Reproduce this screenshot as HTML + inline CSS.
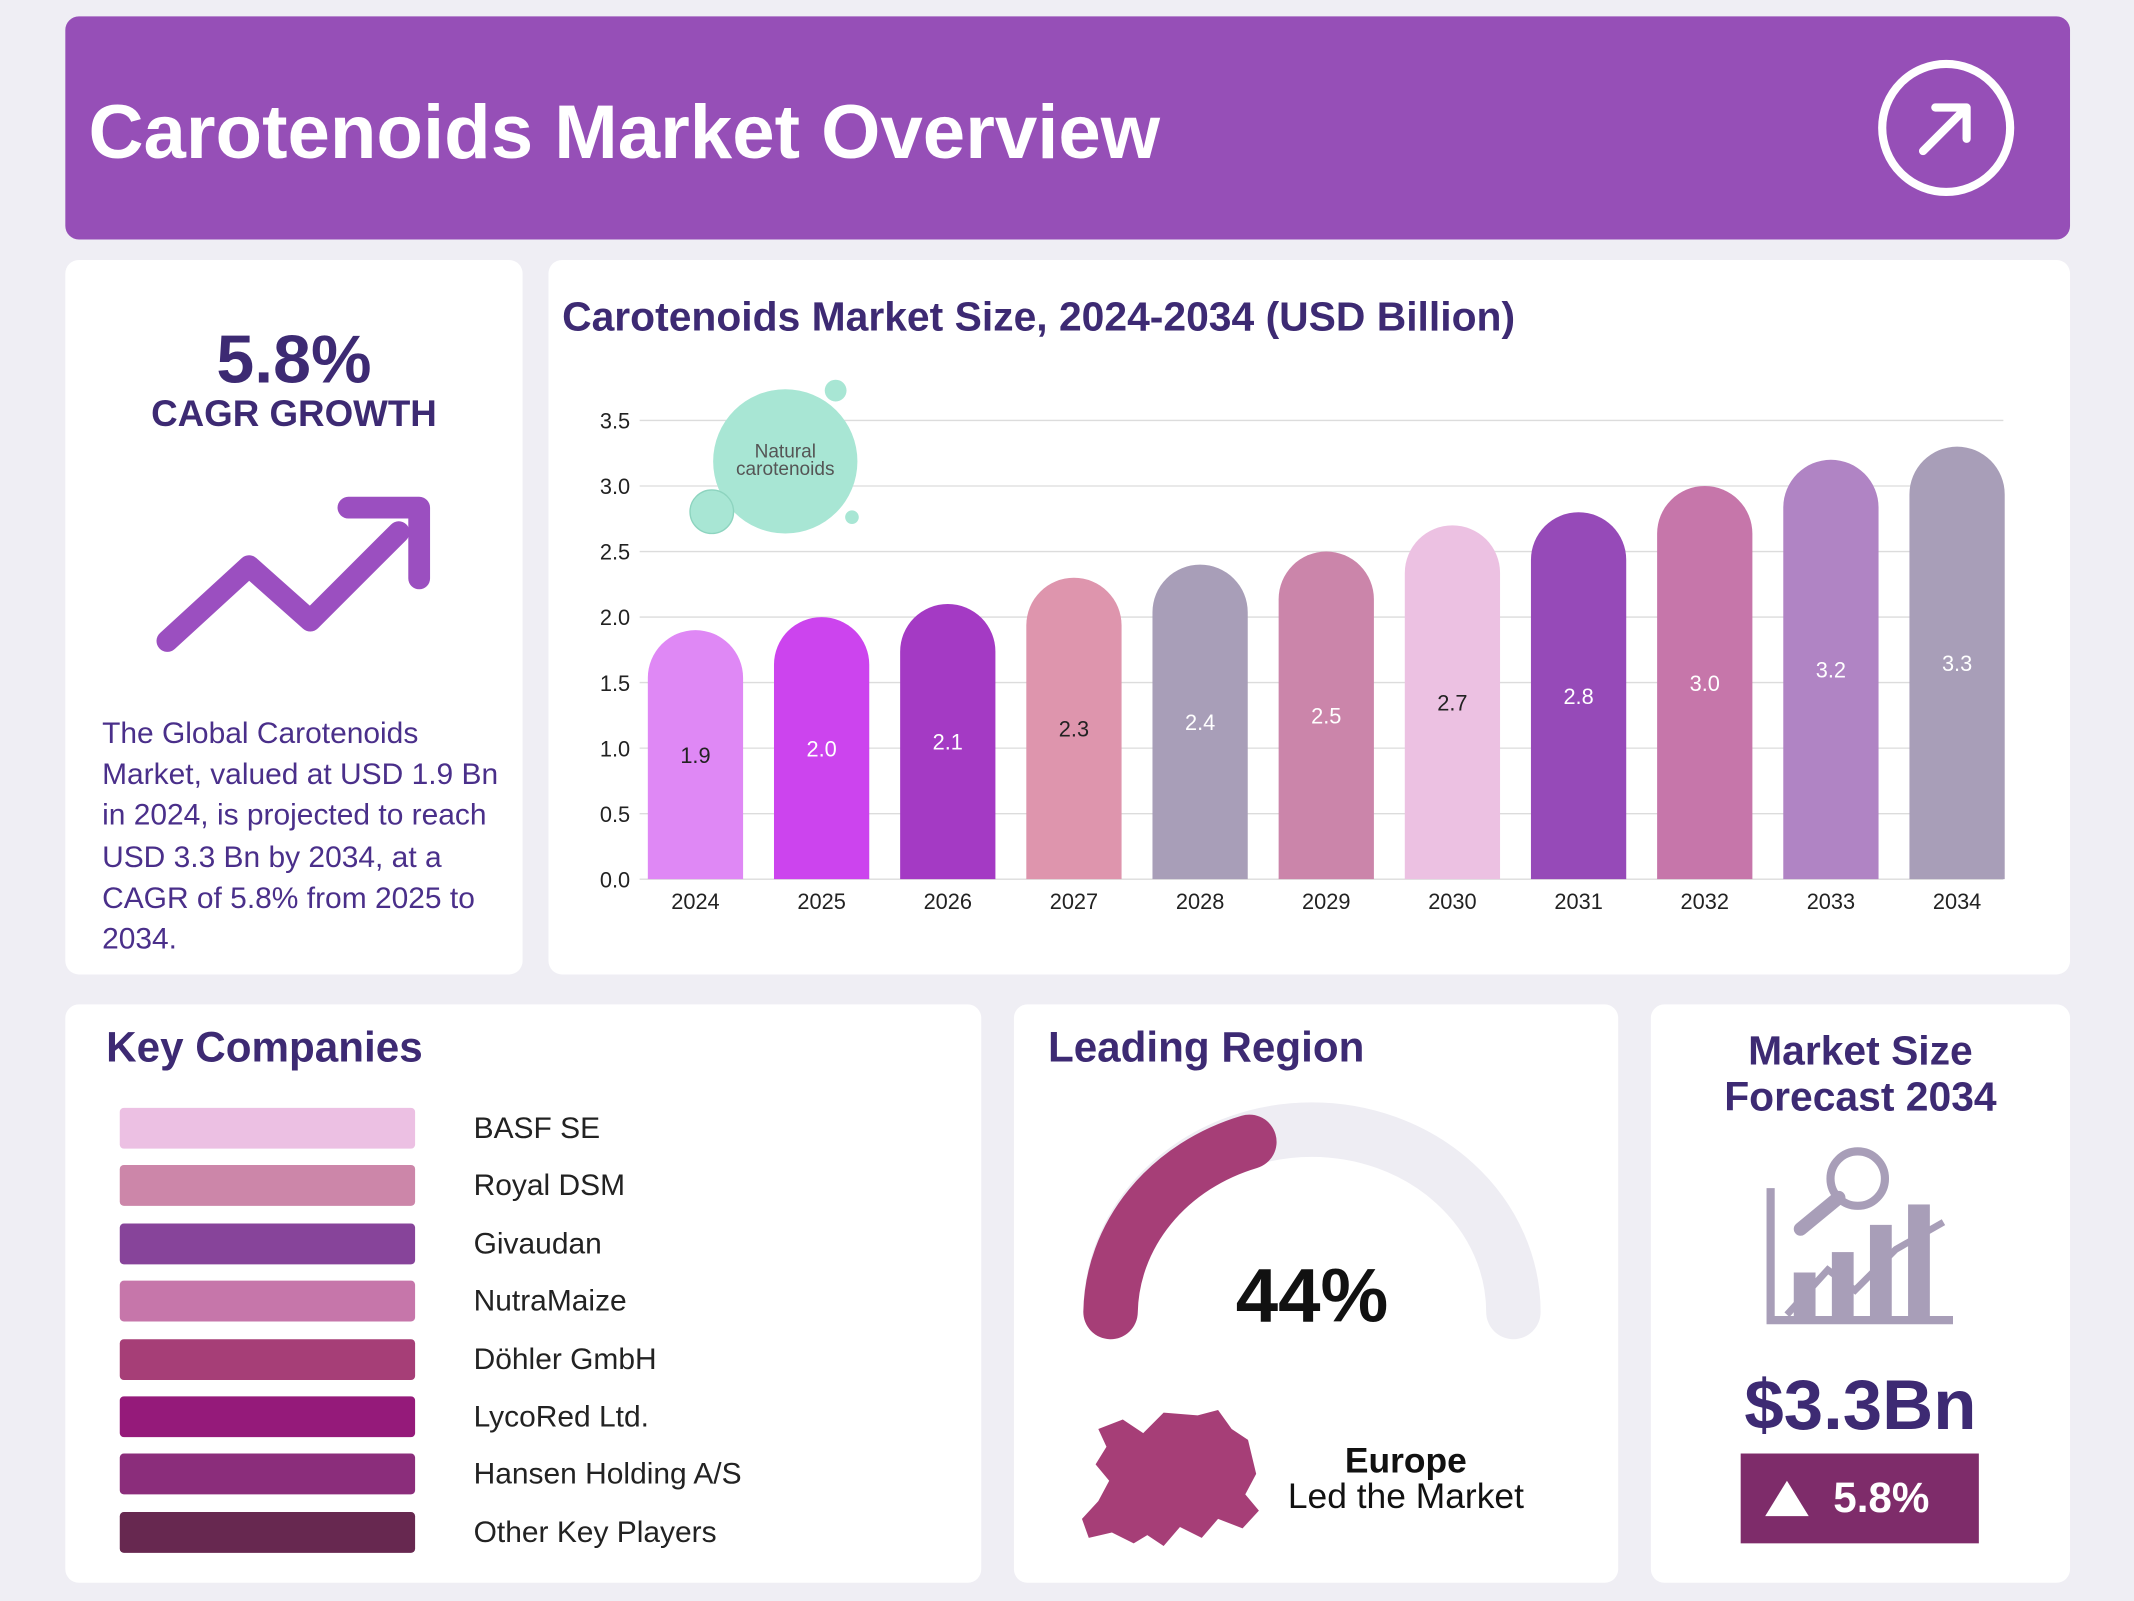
<!DOCTYPE html>
<html><head><meta charset="utf-8">
<style>
html,body{margin:0;padding:0;}
body{width:2134px;height:1600px;overflow:hidden;background:#efeef4;font-family:"Liberation Sans",sans-serif;}
#wrap{position:absolute;left:0;top:0;width:1568px;height:1176px;transform:scale(1.36097);transform-origin:0 0;}
.card{position:absolute;background:#fff;border-radius:10px;}
.t{position:absolute;white-space:nowrap;}
</style></head><body>
<div id="wrap">
<div class="card" style="left:48px;top:12px;width:1473px;height:164px;background:#964fb7;">
  <div class="t" style="left:17px;top:52px;font-size:56px;font-weight:bold;color:#fff;">Carotenoids Market Overview</div>
  <svg style="position:absolute;left:1330px;top:30px" width="104" height="104"><circle cx="52" cy="52" r="47" fill="none" stroke="#fff" stroke-width="6"/><path d="M35 69 L67 37 M44 37 L67 37 L67 60" fill="none" stroke="#fff" stroke-width="6" stroke-linecap="round" stroke-linejoin="round"/></svg>
</div>

<div class="card" style="left:48px;top:191px;width:336px;height:525px;">
  <div class="t" style="left:0;width:336px;text-align:center;top:44px;font-size:50px;font-weight:bold;color:#3d2a73;">5.8%</div>
  <div class="t" style="left:0;width:336px;text-align:center;top:98px;font-size:27px;font-weight:bold;color:#3d2a73;">CAGR GROWTH</div>
  <svg style="position:absolute;left:60px;top:170px" width="220" height="130"><path d="M15 110 L75 55 L120 95 L185 30" fill="none" stroke="#9b4fc0" stroke-width="16" stroke-linecap="round" stroke-linejoin="round"/><path d="M148 12 L200 12 L200 64" fill="none" stroke="#9b4fc0" stroke-width="16" stroke-linecap="round" stroke-linejoin="round"/></svg>
  <div class="t" style="left:27px;top:333px;font-size:22px;line-height:30.2px;color:#4a2f8a;white-space:normal;width:310px;">The Global Carotenoids Market, valued at USD 1.9 Bn in 2024, is projected to reach USD 3.3 Bn by 2034, at a CAGR of 5.8% from 2025 to 2034.</div>
</div>

<div class="card" style="left:403px;top:191px;width:1118px;height:525px;">
  <div class="t" style="left:10px;top:26px;font-size:30px;font-weight:bold;color:#3d2a73;">Carotenoids Market Size, 2024-2034 (USD Billion)</div>
</div>
<svg id="chart" style="position:absolute;left:0;top:0" width="1568" height="720"></svg>

<div class="card" style="left:48px;top:738px;width:673px;height:425px;">
  <div class="t" style="left:30px;top:14px;font-size:31px;font-weight:bold;color:#3d2a73;">Key Companies</div>
  <div id="comp"></div>
</div>

<div class="card" style="left:745px;top:738px;width:444px;height:425px;">
  <div class="t" style="left:25px;top:14px;font-size:31px;font-weight:bold;color:#3d2a73;">Leading Region</div>
  <svg style="position:absolute;left:0;top:0" width="444" height="425">
    <path d="M71 226 A148 134 0 0 1 367 226" fill="none" stroke="#eeedf3" stroke-width="40" stroke-linecap="round"/>
    <path d="M71 226 A148 134 0 0 1 173 101" fill="none" stroke="#a63e77" stroke-width="40" stroke-linecap="round"/>
    <text x="219" y="233" text-anchor="middle" font-size="56" font-weight="bold" fill="#111" font-family="Liberation Sans">44%</text>
    <path d="M62 312 L80 305 L95 315 L110 300 L135 302 L150 298 L160 312 L172 320 L178 345 L170 360 L180 372 L168 385 L150 378 L138 392 L122 384 L110 398 L98 390 L88 396 L72 388 L55 392 L50 378 L62 365 L70 350 L60 338 L68 325 Z" fill="#a63e77"/>
  </svg>
  <div class="t" style="left:178px;width:220px;text-align:center;top:320px;font-size:26px;font-weight:bold;color:#111;">Europe</div>
  <div class="t" style="left:178px;width:220px;text-align:center;top:346px;font-size:26px;color:#111;">Led the Market</div>
</div>

<div class="card" style="left:1213px;top:738px;width:308px;height:425px;">
  <div class="t" style="left:0;width:308px;text-align:center;top:18px;font-size:30px;line-height:34px;font-weight:bold;color:#3d2a73;">Market Size<br>Forecast 2034</div>
  <svg style="position:absolute;left:80px;top:100px" width="150" height="140" fill="none" stroke="#a89eb8" stroke-width="6">
    <path d="M8 35 L8 132 L142 132"/><path d="M20 128 L50 95 L70 110 L100 80 L135 60" stroke-width="5"/>
    <rect x="28" y="100" width="10" height="28" fill="#a89eb8"/><rect x="56" y="85" width="10" height="43" fill="#a89eb8"/><rect x="84" y="65" width="10" height="63" fill="#a89eb8"/><rect x="112" y="50" width="10" height="78" fill="#a89eb8"/>
    <circle cx="72" cy="28" r="20"/><path d="M58 42 L30 65" stroke-width="10" stroke-linecap="round"/>
  </svg>
  <div class="t" style="left:0;width:308px;text-align:center;top:265px;font-size:52px;font-weight:bold;color:#3d2a73;">$3.3Bn</div>
  <div style="position:absolute;left:66px;top:330px;width:175px;height:66px;background:#7e2c6a;">
    <svg style="position:absolute;left:16px;top:18px" width="36" height="30"><path d="M18 2 L34 28 L2 28 Z" fill="#fff"/></svg>
    <div class="t" style="left:68px;top:15px;font-size:31px;font-weight:bold;color:#fff;">5.8%</div>
  </div>
</div>
</div>
<script>
const years=['2024','2025','2026','2027','2028','2029','2030','2031','2032','2033','2034'];
const values=[1.9,2.0,2.1,2.3,2.4,2.5,2.7,2.8,3.0,3.2,3.3];
const yTicks=[0,0.5,1,1.5,2,2.5,3,3.5];
const barColors=['#df88f5','#cc44ee','#a43ac4','#de95ad','#a89eb8','#cb85aa','#ecc1e2','#964ab8','#c676aa','#b084c4','#a89eb8'];
const labelColors=['#222','#fff','#fff','#222','#fff','#fff','#222','#fff','#fff','#fff','#fff'];
const companies=['BASF SE','Royal DSM','Givaudan','NutraMaize','Döhler GmbH','LycoRed Ltd.','Hansen Holding A/S','Other Key Players'];
const companyColors=['#ecc0e3','#cc86a9','#87449a','#c676aa','#a63e77','#951a7a','#8b2d7b','#672850'];
const NS='http://www.w3.org/2000/svg';
const svg=document.getElementById('chart');
const y=v=>646-v*96.3, x=i=>511+i*92.7;
function mk(t,a,p){const e=document.createElementNS(NS,t);for(const k in a)e.setAttribute(k,a[k]);(p||svg).appendChild(e);return e;}
yTicks.forEach(v=>{
  const l=mk('line',{x1:470,x2:1472,y1:y(v),y2:y(v),stroke:'#dcdcdc','stroke-width':1});
  
  
  const t=mk('text',{x:463,y:y(v)+6,'text-anchor':'end','font-size':16,fill:'#222','font-family':'Liberation Sans'});
  t.textContent=v.toFixed(1);
  
  
});
const g=mk('g',{});


mk('circle',{cx:577,cy:339,r:53,fill:'#a8e6d4'},g);mk('circle',{cx:523,cy:376,r:16,fill:'#a8e6d4',stroke:'#8dd4bf'},g);
mk('circle',{cx:614,cy:287,r:8,fill:'#a8e6d4'},g);mk('circle',{cx:626,cy:380,r:5,fill:'#a8e6d4'},g);
const n1=mk('text',{x:577,y:336,'text-anchor':'middle','font-size':14,fill:'#555','font-family':'Liberation Sans'},g);n1.textContent='Natural';
const n2=mk('text',{x:577,y:349,'text-anchor':'middle','font-size':14,fill:'#555','font-family':'Liberation Sans'},g);n2.textContent='carotenoids';
values.forEach((v,i)=>{
  const w=70,r=35,cx=x(i),top=y(v),b=y(0),L=cx-w/2;
  const p=mk('path',{d:`M${L} ${b} L${L} ${top+r} A${r} ${r} 0 0 1 ${L+w} ${top+r} L${L+w} ${b} Z`,fill:barColors[i]});
  
  
  const t=mk('text',{x:cx,y:(top+b)/2+6,'text-anchor':'middle','font-size':16,fill:labelColors[i],'font-family':'Liberation Sans'});
  t.textContent=v.toFixed(1);
  
  
  const xl=mk('text',{x:cx,y:668,'text-anchor':'middle','font-size':16,fill:'#222','font-family':'Liberation Sans'});
  xl.textContent=years[i];
  
  
});
const comp=document.getElementById('comp');
companies.forEach((c,i)=>{
  const top=76+i*42.4;
  const bar=document.createElement('div');
  bar.style.cssText=`position:absolute;left:40px;top:${top}px;width:217px;height:30px;background:${companyColors[i]};border-radius:3px;`;
  
  
  comp.appendChild(bar);
  const l=document.createElement('div');
  l.className='t';
  l.style.cssText=`left:300px;top:${top+2}px;font-size:22px;color:#222;`;
  l.textContent=c;
  
  
  comp.appendChild(l);
});
</script>
</body></html>
